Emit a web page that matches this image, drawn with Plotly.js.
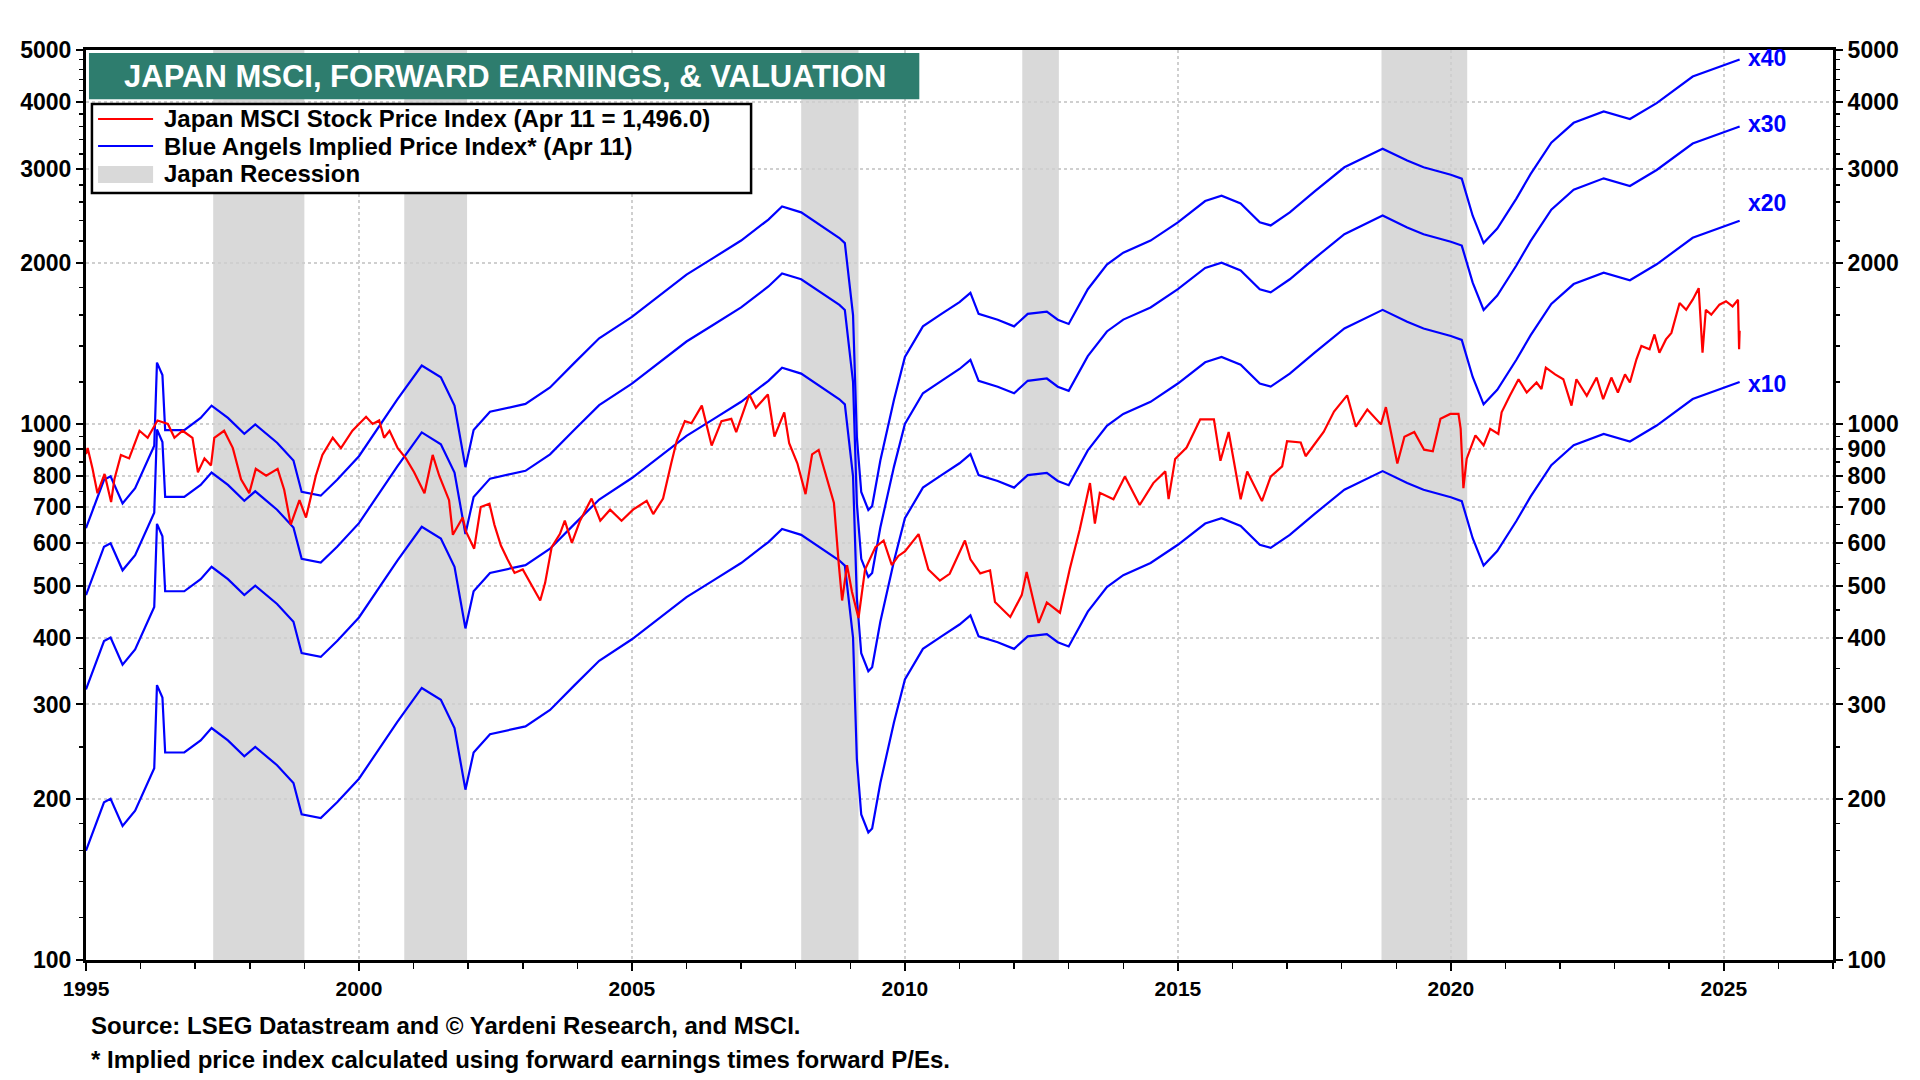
<!DOCTYPE html>
<html>
<head>
<meta charset="utf-8">
<script src="https://cdn.plot.ly/plotly-3.0.1.min.js"></script>
<style>
  html, body { margin: 0; padding: 0; background: #fff; overflow: hidden; }
  #chart { width: 1920px; height: 1080px; }
</style>
</head>
<body>
<div id="chart"></div>
<script>
// Japan MSCI stock price index (decimal years)
var priceDates = [
  1995.0, 1995.03, 1995.12, 1995.21, 1995.34, 1995.46, 1995.52, 1995.64, 1995.79, 1995.98,
  1996.13, 1996.31, 1996.5, 1996.62, 1996.77, 1996.95, 1997.05, 1997.17, 1997.29, 1997.35,
  1997.53, 1997.69, 1997.84, 1997.99, 1998.11, 1998.3, 1998.51, 1998.63, 1998.75, 1998.91,
  1999.03, 1999.21, 1999.33, 1999.52, 1999.67, 1999.88, 2000.13, 2000.25, 2000.37, 2000.46,
  2000.56, 2000.71, 2000.86, 2001.01, 2001.2, 2001.35, 2001.47, 2001.65, 2001.72, 2001.9,
  2001.96, 2002.11, 2002.23, 2002.39, 2002.48, 2002.6, 2002.72, 2002.85, 2003.0, 2003.19,
  2003.32, 2003.41, 2003.53, 2003.68, 2003.77, 2003.9, 2004.05, 2004.26, 2004.42, 2004.6,
  2004.81, 2005.02, 2005.27, 2005.39, 2005.57, 2005.72, 2005.82, 2005.97, 2006.09, 2006.28,
  2006.46, 2006.64, 2006.82, 2006.91, 2007.15, 2007.27, 2007.49, 2007.61, 2007.79, 2007.88,
  2008.03, 2008.18, 2008.3, 2008.42, 2008.54, 2008.7, 2008.79, 2008.85, 2008.94, 2009.03,
  2009.15, 2009.27, 2009.46, 2009.61, 2009.76, 2009.88, 2010.0, 2010.25, 2010.43, 2010.64,
  2010.82, 2011.1, 2011.2, 2011.38, 2011.56, 2011.65, 2011.93, 2012.14, 2012.23, 2012.45,
  2012.6, 2012.84, 2013.02, 2013.2, 2013.39, 2013.48, 2013.57, 2013.82, 2014.03, 2014.3,
  2014.55, 2014.77, 2014.83, 2014.95, 2015.16, 2015.41, 2015.66, 2015.78, 2015.93, 2016.15,
  2016.27, 2016.54, 2016.7, 2016.91, 2017.0, 2017.25, 2017.34, 2017.67, 2017.86, 2018.1,
  2018.26, 2018.47, 2018.72, 2018.81, 2019.02, 2019.15, 2019.33, 2019.51, 2019.67, 2019.81,
  2019.99, 2020.14, 2020.18, 2020.23, 2020.29, 2020.45, 2020.6, 2020.72, 2020.87, 2020.93,
  2021.08, 2021.24, 2021.39, 2021.57, 2021.66, 2021.74, 2021.91, 2022.06, 2022.21, 2022.3,
  2022.49, 2022.67, 2022.79, 2022.94, 2023.06, 2023.19, 2023.28, 2023.4, 2023.49, 2023.64,
  2023.73, 2023.82, 2023.94, 2024.04, 2024.19, 2024.31, 2024.43, 2024.54, 2024.61, 2024.67,
  2024.77, 2024.92, 2025.04, 2025.16, 2025.26, 2025.27, 2025.28, 2025.29
];
var priceValues = [
  880, 903, 826, 744, 808, 716, 790, 877, 864, 973,
  944, 1017, 1002, 944, 973, 944, 814, 864, 838, 944,
  973, 903, 790, 744, 826, 802, 826, 755, 650, 722,
  670, 802, 877, 944, 903, 973, 1033, 1002, 1017, 944,
  973, 903, 864, 814, 744, 877, 802, 722, 622, 670,
  631, 586, 701, 711, 650, 594, 560, 528, 536, 497,
  469, 506, 590, 624, 661, 601, 661, 727, 661, 693,
  661, 693, 720, 680, 727, 846, 931, 1014, 1005, 1084,
  913, 1014, 1024, 967, 1137, 1074, 1137, 949, 1053, 922,
  846, 741, 879, 896, 815, 713, 546, 469, 546, 487,
  435, 536, 590, 607, 546, 568, 579, 624, 536, 511,
  526, 607, 560, 527, 534, 466, 437, 480, 530, 426,
  465, 445, 537, 635, 777, 653, 745, 725, 799, 707,
  777, 817, 725, 862, 905, 1022, 1022, 855, 968, 725,
  817, 719, 799, 835, 930, 925, 872, 968, 1057, 1133,
  990, 1066, 1000, 1077, 845, 948, 968, 897, 891, 1024,
  1046, 1046, 981, 760, 863, 954, 914, 981, 960, 1053,
  1131, 1214, 1147, 1197, 1164, 1276, 1240, 1214, 1084, 1214,
  1131, 1223, 1115, 1223, 1147, 1240, 1197, 1323, 1401, 1381,
  1472, 1361, 1441, 1482, 1685, 1637, 1709, 1796, 1361, 1637,
  1603, 1673, 1698, 1661, 1709, 1547, 1381, 1496.0
];

// Forward earnings (divided by 10)
var feDates = [
  1995.0, 1995.33, 1995.45, 1995.55, 1995.67, 1995.9, 1996.1, 1996.25, 1996.3, 1996.4,
  1996.45, 1996.8, 1997.1, 1997.3, 1997.6, 1997.9, 1998.1, 1998.5, 1998.8, 1998.95,
  1999.3, 1999.6, 2000.0, 2000.4, 2000.7, 2001.15, 2001.5, 2001.75, 2001.95, 2002.1,
  2002.4, 2003.05, 2003.5, 2003.95, 2004.4, 2005.0, 2005.5, 2006.0, 2006.5, 2007.0,
  2007.5, 2007.75, 2008.1, 2008.45, 2008.8, 2008.9, 2009.05, 2009.12, 2009.2, 2009.33,
  2009.4, 2009.55, 2009.8, 2010.0, 2010.33, 2010.67, 2011.0, 2011.2, 2011.35, 2011.7,
  2012.0, 2012.25, 2012.6, 2012.8, 2013.0, 2013.35, 2013.7, 2014.0, 2014.5, 2015.0,
  2015.5, 2015.8, 2016.15, 2016.5, 2016.7, 2017.05, 2017.5, 2018.05, 2018.5, 2018.75,
  2019.2, 2019.5, 2020.0, 2020.2, 2020.4, 2020.6, 2020.85, 2021.2, 2021.46, 2021.84,
  2022.25, 2022.8, 2023.28, 2023.77, 2024.43, 2024.98, 2025.29
];
var feValues = [
  16.0, 19.7, 20.0, 19.0, 17.8, 19.0, 21.0, 22.8, 32.6, 30.9,
  24.4, 24.4, 25.7, 27.1, 25.7, 24.0, 25.0, 23.1, 21.4, 18.7,
  18.4, 19.7, 21.8, 25.0, 27.8, 32.2, 30.6, 27.1, 20.8, 24.4,
  26.4, 27.3, 29.3, 32.6, 36.2, 39.7, 43.5, 47.6, 51.2, 55.1,
  60.3, 63.8, 62.2, 58.8, 55.7, 54.5, 40.0, 23.7, 18.7, 17.3,
  17.6, 21.4, 27.8, 33.4, 38.1, 40.2, 42.3, 44.0, 40.2, 39.2,
  38.1, 40.2, 40.6, 39.2, 38.5, 44.7, 49.7, 52.3, 55.1, 59.6,
  65.3, 66.8, 64.6, 59.6, 58.8, 62.2, 68.0, 75.5, 79.5, 81.8,
  77.7, 75.5, 73.1, 71.9, 61.3, 54.5, 58.0, 66.0, 73.3, 83.9,
  91.4, 96.0, 92.9, 99.5, 111.5, 116.7, 120.0
];

// Forward P/E multiples of the Blue Angels lines
var peMultiples = [10, 20, 30, 40];
var peLabels = ["x10", "x20", "x30", "x40"];

// Japan recessions
var recStart = [1997.33, 2000.83, 2008.1, 2012.15, 2018.73];
var recEnd = [1999.0, 2001.98, 2009.15, 2012.82, 2020.3];

var legendLabels = [
  "Japan MSCI Stock Price Index (Apr 11 = 1,496.0)",
  "Blue Angels Implied Price Index* (Apr 11)",
  "Japan Recession"
];

var yTicks = [100, 200, 300, 400, 500, 600, 700, 800, 900, 1000, 2000, 3000, 4000, 5000];
var yMinor = [120, 140, 160, 180, 250, 350, 450, 550, 650, 750, 850, 950,
  1200, 1400, 1600, 1800, 2200, 2400, 2600, 2800, 3200, 3400, 3600, 3800,
  4200, 4400, 4600, 4800];

var FONT = "Liberation Sans, Arial, sans-serif";
var RED = "#ff0000";
var BLUE = "#0000ff";
var GREY = "#d9d9d9";

var traces = [];
peMultiples.forEach(function (m) {
  traces.push({
    type: "scatter",
    mode: "lines",
    x: feDates,
    y: feValues.map(function (v) { return v * m; }),
    line: { color: BLUE, width: 2.2 },
    hoverinfo: "skip"
  });
});
// price line sits on the right-hand axis (same log range) so it draws on top
traces.push({
  type: "scatter",
  mode: "lines",
  x: priceDates,
  y: priceValues,
  yaxis: "y2",
  line: { color: RED, width: 2.2 },
  hoverinfo: "skip"
});

var shapes = recStart.map(function (s, i) {
  return {
    type: "rect", xref: "x", yref: "paper",
    x0: s, x1: recEnd[i], y0: 0, y1: 1,
    fillcolor: GREY, line: { width: 0 }, layer: "below"
  };
});
// title banner
shapes.push({
  type: "rect", xref: "paper", yref: "paper",
  x0: 0.0017, x1: 0.477, y0: 0.946, y1: 0.9967,
  fillcolor: "#2e7d6e", line: { width: 0 }, layer: "above"
});
// legend box and its keys
shapes.push({
  type: "rect", xref: "paper", yref: "paper",
  x0: 0.0034, x1: 0.3807, y0: 0.8429, y1: 0.9407,
  fillcolor: "#ffffff", line: { width: 2.5, color: "#000" }, layer: "above"
});
shapes.push({
  type: "line", xref: "paper", yref: "paper",
  x0: 0.0069, x1: 0.0384, y0: 0.9242, y1: 0.9242,
  line: { width: 2.2, color: RED }, layer: "above"
});
shapes.push({
  type: "line", xref: "paper", yref: "paper",
  x0: 0.0069, x1: 0.0384, y0: 0.8945, y1: 0.8945,
  line: { width: 2.2, color: BLUE }, layer: "above"
});
shapes.push({
  type: "rect", xref: "paper", yref: "paper",
  x0: 0.0069, x1: 0.0384, y0: 0.8538, y1: 0.8725,
  fillcolor: GREY, line: { width: 0 }, layer: "above"
});

var annotations = [
  {
    xref: "paper", yref: "paper", x: 0.2396, y: 0.9714,
    text: "JAPAN MSCI, FORWARD EARNINGS, & VALUATION",
    showarrow: false, xanchor: "center", yanchor: "middle",
    font: { family: FONT, size: 31, color: "#ffffff", weight: "bold" }
  },
  {
    xref: "paper", yref: "paper", x: 0.0017, y: -0.0725,
    text: "Source: LSEG Datastream and \u00a9 Yardeni Research, and MSCI.",
    showarrow: false, xanchor: "left", yanchor: "middle",
    font: { family: FONT, size: 24, color: "#000000", weight: "bold" }
  },
  {
    xref: "paper", yref: "paper", x: 0.0017, y: -0.1088,
    text: "* Implied price index calculated using forward earnings times forward P/Es.",
    showarrow: false, xanchor: "left", yanchor: "middle",
    font: { family: FONT, size: 24, color: "#000000", weight: "bold" }
  }
];
var legendRowY = [0.9242, 0.8945, 0.8648];
legendLabels.forEach(function (t, i) {
  annotations.push({
    xref: "paper", yref: "paper", x: 0.0435, y: legendRowY[i],
    text: t, showarrow: false, xanchor: "left", yanchor: "middle",
    font: { family: FONT, size: 24, color: "#000", weight: "bold" }
  });
});
var lastFe = feValues[feValues.length - 1];
var lastDate = feDates[feDates.length - 1];
var labelShift = [-2, 18, 2, 2];
peMultiples.forEach(function (m, i) {
  annotations.push({
    xref: "x", yref: "y", x: lastDate + 0.12, y: Math.log10(lastFe * m),
    yshift: labelShift[i],
    text: peLabels[i], showarrow: false, xanchor: "left", yanchor: "middle",
    font: { family: FONT, size: 23, color: BLUE, weight: "bold" }
  });
});

var yCommon = {
  type: "log",
  range: [2, Math.log10(5000)],
  tickmode: "array",
  tickvals: yTicks,
  ticktext: yTicks.map(String),
  ticks: "outside",
  ticklen: 7,
  tickwidth: 2,
  tickcolor: "#000",
  tickfont: { family: FONT, size: 23, color: "#000", weight: "bold" },
  minor: { tickmode: "array", tickvals: yMinor, ticks: "outside", ticklen: 4, tickwidth: 1.5, tickcolor: "#000", showgrid: false },
  showline: true,
  linecolor: "#000",
  linewidth: 3,
  zeroline: false,
  fixedrange: true
};

var layout = {
  width: 1920,
  height: 1080,
  margin: { l: 86, r: 87, t: 50, b: 120 },
  paper_bgcolor: "#ffffff",
  plot_bgcolor: "#ffffff",
  showlegend: false,
  xaxis: {
    range: [1995, 2027],
    tick0: 1995,
    dtick: 5,
    ticks: "outside",
    ticklen: 8,
    tickwidth: 2,
    tickcolor: "#000",
    tickfont: { family: FONT, size: 21, color: "#000", weight: "bold" },
    minor: { dtick: 1, ticks: "outside", ticklen: 6, tickwidth: 1.5, tickcolor: "#000", showgrid: false },
    showgrid: true,
    gridcolor: "#cfcfcf",
    griddash: "dot",
    gridwidth: 2,
    showline: true,
    linecolor: "#000",
    linewidth: 3,
    mirror: true,
    zeroline: false,
    fixedrange: true
  },
  yaxis: Object.assign({}, yCommon, {
    showgrid: true, gridcolor: "#cfcfcf", griddash: "dot", gridwidth: 2
  }),
  yaxis2: Object.assign({}, yCommon, {
    overlaying: "y", side: "right", showgrid: false
  }),
  shapes: shapes,
  annotations: annotations
};

Plotly.newPlot("chart", traces, layout, { staticPlot: true, displayModeBar: false });
</script>
</body>
</html>
